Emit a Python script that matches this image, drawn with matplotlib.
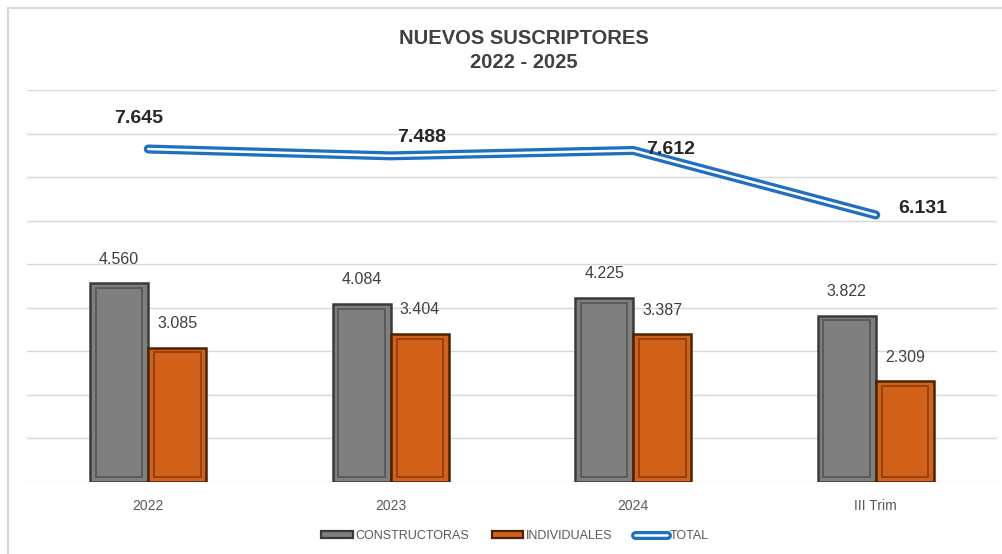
import matplotlib
matplotlib.use("Agg")
import matplotlib.pyplot as plt
import matplotlib.patheffects as pe
from matplotlib.patches import Patch
import numpy as np

plt.rcParams['font.family'] = ['Liberation Sans', 'DejaVu Sans']

categories = ["2022", "2023", "2024", "III Trim"]
constructoras = [4560, 4084, 4225, 3822]
individuales = [3085, 3404, 3387, 2309]
total = [7645, 7488, 7612, 6131]

def fmt(v):
    return f"{v:,}".replace(",", ".")

W, H = 1003, 554
fig = plt.figure(figsize=(W / 100, H / 100), dpi=100)
ax = fig.add_axes([27 / W, 72 / H, 970 / W, (482 - 90) / H])

x = np.arange(len(categories))
bw = 0.24

def bevel_bars(xpos, vals, face, edge, inner):
    ax.bar(xpos, vals, width=bw, color=face, edgecolor=edge, linewidth=1.8, zorder=3)
    ax.bar(xpos, np.array(vals) - 220, bottom=110, width=bw * 0.80, fill=False,
           edgecolor=inner, linewidth=1.4, zorder=4)

bevel_bars(x - bw / 2, constructoras, "#7f7f7f", "#3a3a3a", "#5a5a5a")
bevel_bars(x + bw / 2, individuales, "#d2621a", "#4a2206", "#95420f")

h1 = Patch(facecolor="#7f7f7f", edgecolor="#3a3a3a", linewidth=1.6, label="CONSTRUCTORAS")
h2 = Patch(facecolor="#d2621a", edgecolor="#4a2206", linewidth=1.6, label="INDIVIDUALES")

blue = "#1f6fc2"
line, = ax.plot(x, total, color="white", linewidth=1.8, zorder=6,
                solid_capstyle="round", solid_joinstyle="round", label="TOTAL",
                path_effects=[pe.Stroke(linewidth=6.5, foreground=blue, capstyle="round", joinstyle="round"),
                              pe.Normal()])

for xi, v in zip(x - bw / 2, constructoras):
    ax.annotate(fmt(v), (xi, v), xytext=(0, 12), textcoords="offset points",
                ha="center", va="bottom", fontsize=11.5, color="#404040", zorder=7)
for xi, v in zip(x + bw / 2, individuales):
    ax.annotate(fmt(v), (xi, v), xytext=(0, 12), textcoords="offset points",
                ha="center", va="bottom", fontsize=11.5, color="#404040", zorder=7)

offsets = [(-7, 22), (22, 13), (27, 1), (34, 5)]
for xi, v, off in zip(x, total, offsets):
    ax.annotate(fmt(v), (xi, v), xytext=off, textcoords="offset points",
                ha="center", va="center", fontsize=14, fontweight="bold",
                color="#262626", zorder=8)

ax.set_xlim(-0.5, len(categories) - 0.5)
ax.set_ylim(0, 9000)
ax.set_yticks(np.arange(0, 9001, 1000))
ax.set_yticklabels([])
ax.tick_params(axis="y", length=0)
ax.grid(axis="y", color="#d9d9d9", linewidth=1.0, zorder=0)
ax.set_axisbelow(True)
ax.set_xticks(x)
ax.set_xticklabels(categories, fontsize=10, color="#595959")
ax.tick_params(axis="x", length=0, pad=12)
for s in ax.spines.values():
    s.set_visible(False)

fig.text(524 / W, 1 - 39 / H, "NUEVOS SUSCRIPTORES", ha="center", va="center",
         fontsize=14.5, fontweight="bold", color="#404040")
fig.text(524 / W, 1 - 62 / H, "2022 - 2025", ha="center", va="center",
         fontsize=14.5, fontweight="bold", color="#404040")

fig.legend(handles=[h1, h2, line], loc="center", bbox_to_anchor=(515 / W, 1 - 536 / H),
           ncol=3, frameon=False, fontsize=9, handlelength=2.5, handleheight=0.5,
           handletextpad=0.25, columnspacing=1.8, labelcolor="#595959")

fig.add_artist(plt.Line2D([8 / W, 8 / W], [0, 1 - 8 / H], color="#d9d9d9", linewidth=1.5))
fig.add_artist(plt.Line2D([8 / W, 1], [1 - 8 / H, 1 - 8 / H], color="#d9d9d9", linewidth=1.5))

fig.savefig("out.png", dpi=100, facecolor="white")
